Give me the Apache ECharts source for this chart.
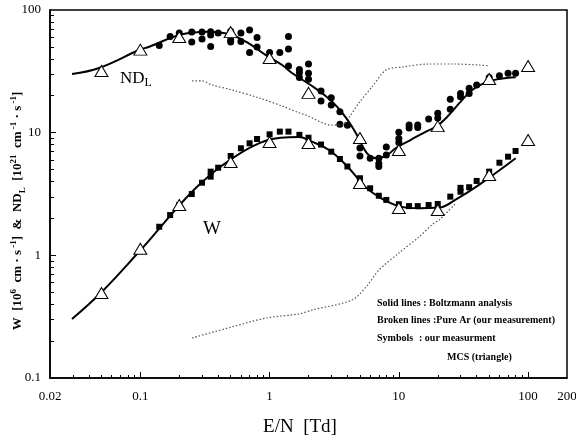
<!DOCTYPE html>
<html>
<head>
<meta charset="utf-8">
<script src="https://cdn.jsdelivr.net/npm/echarts@6/dist/echarts.min.js"></script>
<style>
  html, body { margin: 0; padding: 0; background: #fff; }
  #chart { width: 576px; height: 442px; }
</style>
</head>
<body>
<div id="chart"></div>
<script>
// E/N [Td] values and measured / computed quantities
const xTickLabels = [0.02, 0.1, 1, 10, 100, 200];
const yTickLabels = [0.1, 1, 10, 100];

// Boltzmann analysis (solid lines)
const ndlFitX = [0.0296, 0.048, 0.098, 0.117, 0.21, 0.336, 0.49, 0.69, 0.93, 1.25, 1.5, 2.13, 2.73, 3.32, 3.97, 4.66, 5.19, 5.9, 6.8, 8.0, 9.5, 12.3, 16.5, 19.5, 23.7, 30.1, 37.0, 47.0, 59.6, 80.2];
const ndlFitY = [30.1, 33.7, 47.2, 50.2, 63.5, 66.6, 63.5, 53.5, 43.0, 35.6, 30.5, 24.0, 19.8, 16.3, 12.9, 9.9, 7.9, 6.5, 6.2, 6.5, 7.5, 8.7, 10.3, 11.2, 13.5, 17.9, 22.3, 25.7, 27.4, 28.3];
const wFitX = [0.0296, 0.05, 0.1, 0.14, 0.2, 0.284, 0.418, 0.757, 1.22, 1.69, 2.13, 2.88, 3.9, 4.92, 5.5, 7.02, 10, 14.3, 20.5, 27.3, 41.7, 80.2];
const wFitY = [0.303, 0.5, 1.1, 1.65, 2.55, 3.74, 5.28, 7.83, 9.1, 9.2, 8.44, 7.22, 5.45, 4.11, 3.6, 2.99, 2.52, 2.42, 2.45, 2.83, 3.75, 6.18];

// Pure Ar (broken lines)
const ndlArX = [0.251, 0.3, 0.358, 0.512, 0.828, 1.25, 1.69, 1.91, 3.04, 3.57, 4.12, 4.92, 6.2, 7.95, 10.6, 17.1, 25.8, 41.7, 49.9];
const ndlArY = [26.4, 26.4, 24.5, 22.3, 19.2, 16.5, 14.5, 13.9, 11.5, 11.5, 13.4, 17.5, 23.6, 32.4, 34.3, 36.3, 36.3, 35.6, 35.0];
const wArX = [0.251, 0.512, 0.938, 1.69, 2.13, 4.34, 5.57, 7.02, 10, 14.3, 18.2, 20.5, 27.7];
const wArY = [0.212, 0.261, 0.308, 0.333, 0.358, 0.432, 0.552, 0.759, 1.045, 1.41, 1.79, 1.94, 2.67];

// our measurement (symbols)
const ndlMeasX = [0.14, 0.17, 0.2, 0.25, 0.25, 0.3, 0.3, 0.35, 0.35, 0.35, 0.4, 0.5, 0.5, 0.5, 0.6, 0.6, 0.7, 0.7, 0.8, 0.8, 1.0, 1.2, 1.4, 1.4, 1.4, 1.7, 1.7, 1.7, 2, 2, 2, 2.5, 2.5, 3, 3, 3.5, 3.5, 4, 5, 5, 6, 7, 7, 7, 8, 8, 10, 10, 10, 12, 12, 14, 14, 17, 20, 20, 25, 25, 30, 30, 35, 35, 40, 50, 60, 70, 80];
const ndlMeasY = [51.3, 60.8, 64.9, 66.2, 54.8, 66.2, 58.0, 66.6, 62.5, 50.4, 64.9, 67.0, 56.9, 54.8, 64.9, 55.4, 68.7, 45.0, 59.7, 50.0, 45.0, 45.0, 60.8, 48.1, 35.0, 32.7, 30.8, 28.2, 36.3, 30.5, 27.2, 21.9, 18.1, 19.3, 16.8, 14.8, 11.7, 11.5, 7.5, 6.46, 6.18, 6.18, 5.61, 5.30, 7.64, 6.58, 10.1, 8.97, 8.3, 11.55, 10.9, 11.55, 11.0, 12.9, 14.4, 13.2, 18.7, 15.5, 20.9, 19.6, 23.0, 20.9, 24.5, 28.2, 29.1, 30.5, 30.5];
const wMeasX = [0.14, 0.17, 0.2, 0.25, 0.3, 0.35, 0.35, 0.4, 0.5, 0.6, 0.7, 0.8, 1.0, 1.2, 1.4, 1.7, 2, 2.5, 3, 3.5, 4, 5, 6, 7, 8, 10, 12, 14, 17, 20, 25, 30, 30, 35, 40, 50, 60, 70, 80];
const wMeasY = [1.71, 2.13, 2.57, 3.16, 3.91, 4.38, 4.81, 5.18, 6.45, 7.46, 8.19, 8.88, 9.69, 10.2, 10.2, 9.6, 9.1, 8.0, 7.0, 6.1, 5.3, 4.25, 3.52, 3.06, 2.83, 2.61, 2.52, 2.52, 2.57, 2.62, 3.01, 3.3, 3.55, 3.59, 4.04, 4.81, 5.69, 6.37, 7.09];

// MCS (triangle)
const mcsX = [0.05, 0.1, 0.2, 0.5, 1, 2, 5, 10, 20, 50, 100];
const ndlMcsY = [31.8, 47.5, 60.2, 66, 40.6, 21.1, 9.05, 7.22, 11.3, 27.4, 35.0];
const wMcsY = [0.493, 1.13, 2.57, 5.77, 8.39, 8.24, 3.89, 2.43, 2.34, 4.52, 8.71];

const L = v => Math.log10(v);
const pairs = (xs, ys) => xs.map((x, i) => [L(x), L(ys[i])]);
const fmt = v => String(+Math.pow(10, v).toPrecision(2));

// minor ticks 2..9 of each decade inside [lo, hi)
function minorTicks(lo, hi) {
  const out = [];
  for (let d = -3; d <= 3; d++) {
    for (let k = 2; k <= 9; k++) {
      const v = k * Math.pow(10, d);
      if (v > lo * 1.0001 && v < hi * 0.9999) out.push(L(v));
    }
  }
  return out;
}

const serif = 'Liberation Serif';
const axisLine = { show: true, onZero: false, lineStyle: { color: '#000', width: 1.5 } };
const noLine = { show: false, onZero: false };
const legendFont = 'bold 10px "Liberation Serif"';

var chart = echarts.init(document.getElementById('chart'), null, { renderer: 'canvas' });
var option = {
  animation: false,
  backgroundColor: '#fff',
  grid: {
    left: 50, right: 9, top: 10, bottom: 64,
    show: true, borderColor: '#000', borderWidth: 1.5,
    containLabel: false, outerBoundsMode: 'none'
  },
  xAxis: [
    {
      type: 'value', min: L(0.02), max: L(200), position: 'bottom',
      axisLine: axisLine,
      axisTick: { inside: true, length: 6, lineStyle: { color: '#000' }, customValues: [L(0.1), L(1), L(10), L(100)] },
      axisLabel: { customValues: xTickLabels.map(L), formatter: fmt, margin: 12, color: '#000', fontFamily: serif, fontSize: 13, showMinLabel: true, showMaxLabel: true },
      splitLine: { show: false }
    },
    {
      type: 'value', min: L(0.02), max: L(200), position: 'bottom',
      axisLine: noLine,
      axisTick: { inside: true, length: 3, lineStyle: { color: '#000' }, customValues: minorTicks(0.02, 200) },
      axisLabel: { show: false },
      splitLine: { show: false }
    }
  ],
  yAxis: [
    {
      type: 'value', min: -1, max: 2, position: 'left',
      axisLine: axisLine,
      axisTick: { inside: true, length: 6, lineStyle: { color: '#000' }, customValues: [0, 1] },
      axisLabel: { customValues: yTickLabels.map(L), formatter: fmt, margin: 9, color: '#000', fontFamily: serif, fontSize: 13, showMinLabel: true, showMaxLabel: true },
      splitLine: { show: false }
    },
    {
      type: 'value', min: -1, max: 2, position: 'left',
      axisLine: noLine,
      axisTick: { inside: true, length: 4, lineStyle: { color: '#000' }, customValues: minorTicks(0.1, 100) },
      axisLabel: { show: false },
      splitLine: { show: false }
    }
  ],
  series: [
    { name: 'NDL Ar', type: 'line', data: pairs(ndlArX, ndlArY), smooth: 0.3, symbol: 'none',
      lineStyle: { color: '#555', width: 1.2, type: [1.5, 2] } },
    { name: 'W Ar', type: 'line', data: pairs(wArX, wArY), smooth: 0.3, symbol: 'none',
      lineStyle: { color: '#555', width: 1.2, type: [1.5, 2] } },
    { name: 'NDL fit', type: 'line', data: pairs(ndlFitX, ndlFitY), smooth: 0.4, symbol: 'none',
      lineStyle: { color: '#000', width: 2 } },
    { name: 'W fit', type: 'line', data: pairs(wFitX, wFitY), smooth: 0.4, symbol: 'none',
      lineStyle: { color: '#000', width: 2 } },
    { name: 'NDL meas', type: 'scatter', data: pairs(ndlMeasX, ndlMeasY), symbol: 'circle', symbolSize: 7,
      itemStyle: { color: '#000', opacity: 1 } },
    { name: 'W meas', type: 'scatter', data: pairs(wMeasX, wMeasY), symbol: 'rect', symbolSize: 6,
      itemStyle: { color: '#000', opacity: 1 } },
    { name: 'NDL MCS', type: 'scatter', data: pairs(mcsX, ndlMcsY), symbol: 'triangle', symbolSize: [13, 11],
      itemStyle: { color: '#fff', borderColor: '#000', borderWidth: 1, opacity: 1 }, z: 5 },
    { name: 'W MCS', type: 'scatter', data: pairs(mcsX, wMcsY), symbol: 'triangle', symbolSize: [13, 11],
      itemStyle: { color: '#fff', borderColor: '#000', borderWidth: 1, opacity: 1 }, z: 5 }
  ],
  graphic: [
    { type: 'text', x: 300, y: 427, style: { text: 'E/N  [Td]', font: '19px "Liberation Serif"', fill: '#000', align: 'center', verticalAlign: 'middle' } },
    { type: 'text', x: 18, y: 211, rotation: Math.PI / 2,
      style: {
        text: '{b|W  [10}{sup|6}{b|  cm · s}{sup| -1}{b|]  &  ND}{sub|L}{b|  [10}{sup|21}{b|  cm}{sup| -1}{b| · s}{sup| -1}{b|]}',
        align: 'center', verticalAlign: 'middle', fill: '#000',
        rich: {
          b: { fontFamily: serif, fontWeight: 'bold', fontSize: 13, lineHeight: 18 },
          sup: { fontFamily: serif, fontWeight: 'bold', fontSize: 9, verticalAlign: 'top', lineHeight: 18 },
          sub: { fontFamily: serif, fontWeight: 'bold', fontSize: 9, verticalAlign: 'bottom', lineHeight: 18 }
        }
      } },
    { type: 'text', x: 120, y: 79,
      style: {
        text: '{a|ND}{s|L}', verticalAlign: 'middle', fill: '#000',
        rich: {
          a: { fontFamily: serif, fontSize: 17, lineHeight: 20 },
          s: { fontFamily: serif, fontSize: 12, verticalAlign: 'bottom', lineHeight: 20 }
        }
      } },
    { type: 'text', x: 203, y: 229, style: { text: 'W', font: '19px "Liberation Serif"', fill: '#000', verticalAlign: 'middle' } },
    { type: 'text', x: 377, y: 303, style: { text: 'Solid lines : Boltzmann analysis', font: legendFont, fill: '#000', verticalAlign: 'middle' } },
    { type: 'text', x: 377, y: 320, style: { text: 'Broken lines :Pure Ar (our measurement)', font: legendFont, fill: '#000', verticalAlign: 'middle' } },
    { type: 'text', x: 377, y: 338, style: { text: 'Symbols', font: legendFont, fill: '#000', verticalAlign: 'middle' } },
    { type: 'text', x: 419, y: 338, style: { text: ': our measurment', font: legendFont, fill: '#000', verticalAlign: 'middle' } },
    { type: 'text', x: 447, y: 357, style: { text: 'MCS (triangle)', font: legendFont, fill: '#000', verticalAlign: 'middle' } }
  ]
};
chart.setOption(option);
</script>
</body>
</html>
